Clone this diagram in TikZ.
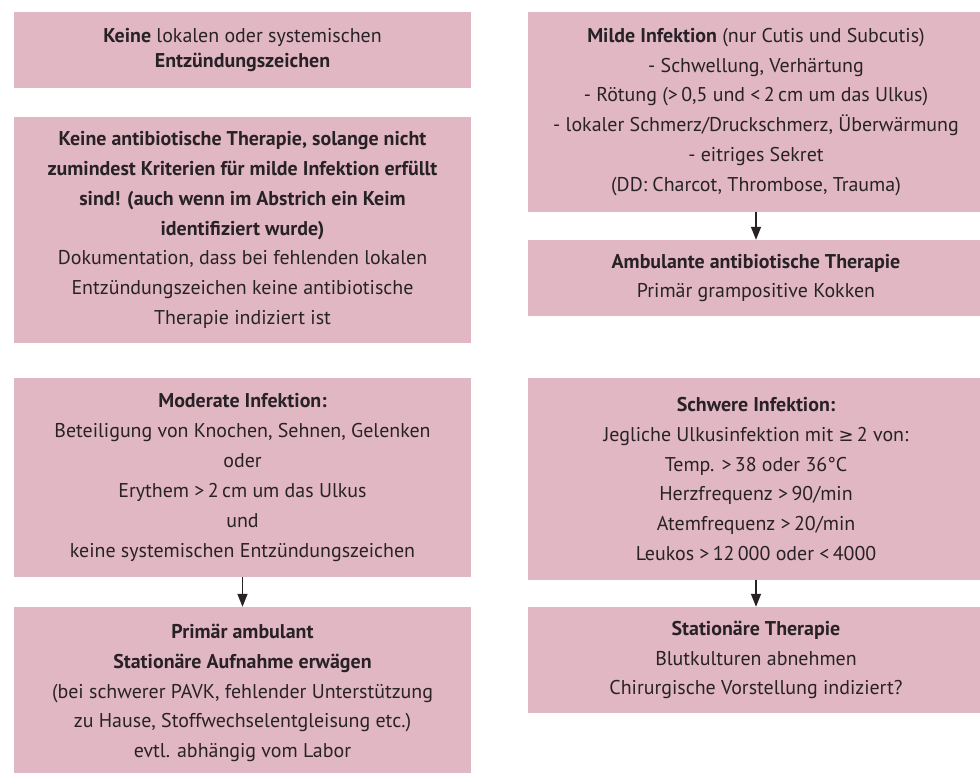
\documentclass[tikz,border=0pt]{standalone}
\usepackage{fontspec}
\setmainfont{PT Sans}
\newfontfamily\relfont[Scale=0.9]{DejaVu Sans}
\usetikzlibrary{arrows.meta}
\definecolor{boxpink}{RGB}{224,183,195}
\definecolor{ink}{RGB}{40,34,38}
\tikzset{
  box/.style={fill=boxpink, draw=none, inner sep=0pt, align=center, text=ink,
    font=\fontsize{20}{30}\selectfont},
  leftbox/.style={box, minimum width=457bp},
  rightbox/.style={box, minimum width=456bp},
  flow/.style={draw=ink, line width=1.4pt, -{Triangle[width=10bp,length=13bp]}},
}
\begin{document}
\begin{tikzpicture}[x=1bp,y=-1bp]
\useasboundingbox (0,0) rectangle (980,773);

% left column
\node[leftbox, minimum height=76bp, font=\fontsize{20}{25}\selectfont] (none) at (242.5,50)
  {\textbf{Keine} lokalen oder systemischen\\\textbf{Entzündungszeichen}};
\node[leftbox, minimum height=226bp] (noab) at (242.5,230)
  {\textbf{Keine antibiotische Therapie, solange nicht}\\
   \textbf{zumindest Kriterien für milde Infektion erfüllt}\\
   \textbf{sind! (auch wenn im Abstrich ein Keim}\\
   \textbf{identifiziert wurde)}\\
   Dokumentation, dass bei fehlenden lokalen\\
   Entzündungszeichen keine antibiotische\\
   Therapie indiziert ist};
\node[leftbox, minimum height=199bp] (moderate) at (242.5,477.5)
  {\textbf{Moderate Infektion:}\\
   Beteiligung von Knochen, Sehnen, Gelenken\\
   oder\\
   Erythem >\,2\,cm um das Ulkus\\
   und\\
   keine systemischen Entzündungszeichen};
\node[leftbox, minimum height=172bp] (ambulant) at (242.5,693)
  {\textbf{Primär ambulant}\\
   \textbf{Stationäre Aufnahme erwägen}\\
   (bei schwerer PAVK, fehlender Unterstützung\\
   zu Hause, Stoffwechselentgleisung etc.)\\
   evtl. abhängig vom Labor};

% right column
\node[rightbox, minimum height=200bp] (mild) at (756,112)
  {\textbf{Milde Infektion} (nur Cutis und Subcutis)\\
   - Schwellung, Verhärtung\\
   - Rötung (>\,0,5 und <\,2\,cm um das Ulkus)\\
   - lokaler Schmerz/Druckschmerz, Überwärmung\\
   - eitriges Sekret\\
   (DD: Charcot, Thrombose, Trauma)};
\node[rightbox, minimum height=76bp] (ambab) at (756,278)
  {\textbf{Ambulante antibiotische Therapie}\\
   Primär grampositive Kokken};
\node[rightbox, minimum height=202bp] (severe) at (756,479)
  {\textbf{Schwere Infektion:}\\
   Jegliche Ulkusinfektion mit {\relfont ≥}\,2 von:\\
   Temp. >\,38 oder 36°C\\
   Herzfrequenz >\,90/min\\
   Atemfrequenz >\,20/min\\
   Leukos >\,12\,000 oder <\,4000};
\node[rightbox, minimum height=106bp] (stationary) at (756,660)
  {\textbf{Stationäre Therapie}\\
   Blutkulturen abnehmen\\
   Chirurgische Vorstellung indiziert?};

% connectors
\draw[flow] (moderate.south) -- (ambulant.north);
\draw[flow] (mild.south) -- (ambab.north);
\draw[flow] (severe.south) -- (stationary.north);
\end{tikzpicture}
\end{document}
